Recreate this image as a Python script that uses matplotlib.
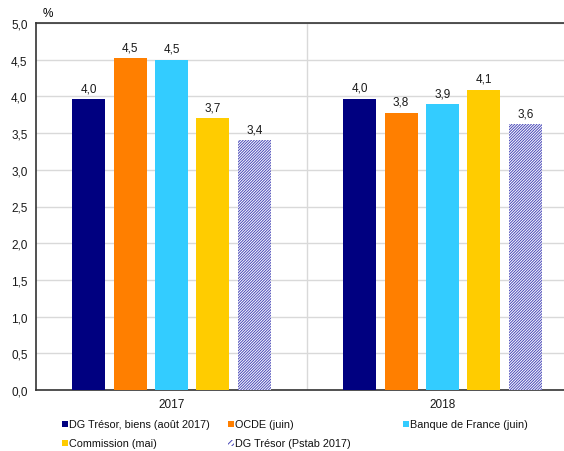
import numpy as np
import matplotlib.pyplot as plt
from matplotlib.patches import Rectangle

plt.rcParams['font.family'] = ['Liberation Sans', 'DejaVu Sans']
plt.rcParams['hatch.linewidth'] = 0.7

years = ['2017', '2018']
series = ['DG Trésor, biens (août 2017)', 'OCDE (juin)', 'Banque de France (juin)',
          'Commission (mai)', 'DG Trésor (Pstab 2017)']
dg_tresor = [3.96, 3.97]
ocde = [4.52, 3.78]
bdf = [4.50, 3.89]
commission = [3.70, 4.09]
pstab = [3.40, 3.62]
values = [dg_tresor, ocde, bdf, commission, pstab]
colors = ['#000080', '#FF7F00', '#33CCFF', '#FFCC00', 'white']
hatch_col = '#4848b8'
dense = '/' * 12

W, H = 564, 452
fig = plt.figure(figsize=(W / 100, H / 100), dpi=100)
# axes runs a bit past the right edge of the picture, like the original
ax = fig.add_axes([36 / W, 1 - 391 / H, 542 / W, 367 / H])

x = np.arange(len(years))
width = 0.122
step = 0.153
for i, vals in enumerate(values):
    pos = x + (i - 2) * step
    if i == 4:
        ax.bar(pos, vals, width, color='white', edgecolor=hatch_col,
               hatch=dense, linewidth=0, zorder=3)
    else:
        ax.bar(pos, vals, width, color=colors[i], zorder=3)
    for p, v in zip(pos, vals):
        ax.text(p, v + 0.07, f'{v:.1f}'.replace('.', ','), ha='center', va='bottom',
                fontsize=8.5, color='#1a1a1a')

ax.set_xlim(-0.5, 1.5)
ax.set_ylim(0, 5)
ticks = np.arange(0, 5.01, 0.5)
ax.set_yticks(ticks)
ax.set_yticklabels([f'{t:.1f}'.replace('.', ',') for t in ticks], fontsize=8.5, color='#1a1a1a')
ax.set_xticks(x)
ax.set_xticklabels(years, fontsize=8.5, color='#1a1a1a')
ax.tick_params(axis='both', length=0, pad=6)
ax.yaxis.grid(True, color='#d9d9d9', linewidth=1, zorder=0)
ax.axvline(0.5, color='#d9d9d9', linewidth=1, zorder=0)
for s in ['left', 'top', 'bottom']:
    ax.spines[s].set_linewidth(1.2)
    ax.spines[s].set_color('#333333')
ax.spines['right'].set_visible(False)
ax.text(0.012, 1.012, '%', transform=ax.transAxes, fontsize=8.5, ha='left', va='bottom')

# legend drawn by hand, row by row, at the column positions of the original
slots = [(62, 425), (228, 425), (403, 425), (62, 444), (228, 444)]
for (px, py), name, c in zip(slots, series, colors):
    hatch = '/' * 6 if c == 'white' else None
    ec = hatch_col if hatch else c
    fig.add_artist(Rectangle((px / W, 1 - (py + 3) / H), 6 / W, 6 / H, transform=fig.transFigure,
                             facecolor=c, edgecolor=ec, hatch=hatch, linewidth=0))
    fig.text((px + 7) / W, 1 - py / H, name, fontsize=7.8, ha='left', va='center', color='#111111')

fig.savefig('out.png', dpi=100)
